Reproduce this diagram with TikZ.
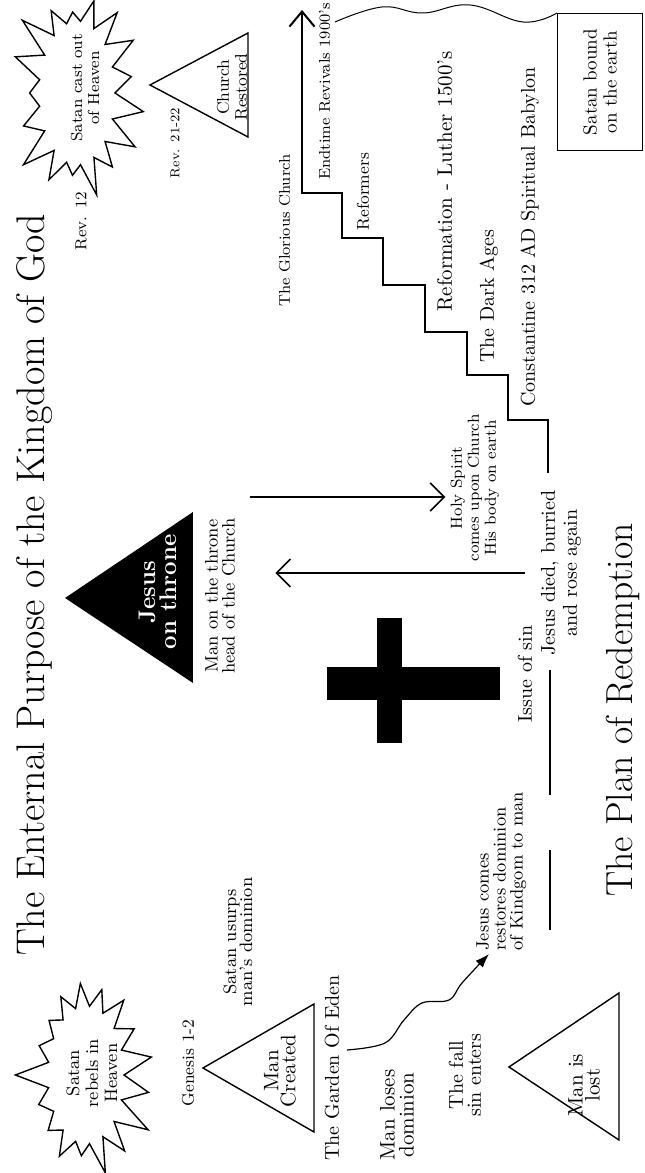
\documentclass[tikz,border=0pt]{standalone}
\usepackage{tikz}
\usetikzlibrary{positioning,arrows.meta,shapes.symbols}
\tikzset{%
  lbl/.style={inner sep=0pt, align=center},% plain caption
  burst/.style={draw, line width=0.7pt, shape=starburst, starburst points=17,
    starburst point height=18pt, inner sep=0pt},% satan stars
  tri/.style={draw, line width=0.7pt},% triangles
  stair/.style={line width=1pt},% steps of the church
  timeline/.style={line width=0.7pt},% line of redemption
  barb/.style={line width=0.8pt, -{Straight Barb[length=7pt,width=14pt]}}% open arrow
}
\newcommand*{\fs}[2]{\fontsize{#1}{#2}\selectfont}

\begin{document}
\begin{tikzpicture}[x=0.5pt, y=0.5pt]
\begin{scope}[rotate=90, transform shape]
\useasboundingbox (0,0) rectangle (1173,644);

% titles
\node[lbl, anchor=base, font=\fs{20}{22}] (kingdom) at (588,599) {The Enternal Purpose of the Kingdom of God};
\node[lbl, anchor=base, font=\fs{18.8}{20}] (plan) at (463,11) {The Plan of Redemption};

% creation
\node[burst, minimum width=105pt, minimum height=74pt, random starburst=7] (rebel) at (98,558) {};
\node[lbl, font=\fs{9}{9.5}] (rebeltxt) at (100,552) {Satan\\rebels in\\Heaven};
\node[lbl, font=\fs{8.5}{9}] (genesis) at (110,456) {Genesis 1-2};
\draw[tri] (41,330) -- (105,441) -- (169,330) -- cycle;
\node[lbl, font=\fs{10.5}{8.5}] (created) at (102,364) {Man\\Created};
\node[lbl, font=\fs{9}{8}] (usurps) at (231,406) {Satan usurps\\man's dominion};
\node[lbl, font=\fs{10}{10}] (eden) at (105,312) {The Garden Of Eden};
\node[lbl, font=\fs{10.5}{9.5}] (loses) at (58,247) {Man loses\\dominion};
\node[lbl, font=\fs{10}{9}] (fall) at (98,179) {The fall\\sin enters};
\draw[tri] (33,25) -- (106,135) -- (180,25) -- cycle;
\node[lbl, font=\fs{10.5}{8.5}] (lost) at (88,60) {Man is\\lost};

% jesus comes
\node[lbl, anchor=north west, align=left, font=\fs{9}{8.5}] (comes) at (222,168) {Jesus comes\\restores dominion\\of Kindgom to man};
\coordinate (fromeden) at (123,297);
\coordinate (tocomes) at (219,155);
\draw[line width=0.6pt, -{Latex[length=7pt,width=5pt]}] plot[smooth, tension=0.6]
  coordinates {(fromeden) (130,259) (153,240) (170,222) (173,195) (190,182) (tocomes)};

% cross
\fill (473,144) rectangle (506,317);
\fill (430,242) rectangle (555,267);
\node[lbl, font=\fs{10}{10}] (issue) at (499,119) {Issue of sin};
\draw[timeline] (243,94) -- (323,94);
\draw[timeline] (378,94) -- (503,94);
\node[lbl, font=\fs{10}{11}] (died) at (600,83) {Jesus died, burried\\and rose again};

% throne
\fill (490,451) -- (575,579) -- (661,451) -- cycle;
\node[lbl, text=white, font=\bfseries\fs{12}{10.5}] (jesus) at (581,486) {Jesus\\on throne};
\node[lbl, font=\fs{9}{8.5}] (throne) at (577,424) {Man on the throne\\head of the Church};
\node[lbl, font=\fs{8}{8.5}] (holy) at (685,169) {Holy Spirit\\comes upon Church\\His body on earth};
\draw[barb, shorten <=8pt, shorten >=20pt] (died.north) -- (died.north |- throne.south);
\coordinate (descend) at (676,394);
\draw[barb, shorten >=2.5pt] (descend) -- (descend |- holy.north);

% church age
\draw[stair, -{Straight Barb[length=7.5pt,width=12.5pt]}] (700,96) -- (753,96) -- (753,136)
  -- (798,136) -- (798,177) -- (841,177) -- (841,219) -- (888,219) -- (888,261)
  -- (935,261) -- (935,302) -- (980,302) -- (980,342) -- (1163,342);
\node[lbl, anchor=base west, font=\fs{10}{12}] (constantine) at (766,109) {Constantine 312 AD Spiritual Babylon};
\node[lbl, anchor=base west, font=\fs{10}{12}] (dark) at (810,150) {The Dark Ages};
\node[lbl, anchor=base west, font=\fs{10.5}{12}] (luther) at (861,192) {Reformation - Luther 1500's};
\node[lbl, anchor=base west, font=\fs{8.5}{10}] (reformers) at (942,275) {Reformers};
\node[lbl, anchor=base west, font=\fs{7.75}{9}] (revivals) at (993,314) {Endtime Revivals 1900's};
\node[lbl, anchor=base west, font=\fs{7.75}{9}] (glory) at (866,354) {The Glorious Church};

% end
\node[burst, minimum width=108pt, minimum height=74pt, random starburst=23] (castout) at (1080,567) {};
\node[lbl, font=\fs{8}{8.5}] (castouttxt) at (1085,559) {Satan cast out\\of Heaven};
\node[lbl, font=\fs{8}{9}] (rev12) at (952,563) {Rev. 12};
\draw[tri] (1036,396) -- (1088,494) -- (1140,396) -- cycle;
\node[lbl, font=\fs{8.5}{9}] (restored) at (1086,412) {Church\\Restored};
\node[lbl, font=\fs{6.5}{7}] (rev21) at (1030,469) {Rev. 21-22};
\node[draw, line width=0.5pt, minimum width=68.5pt, minimum height=42.5pt, inner sep=0pt,
  align=center, font=\fs{9.5}{10}] (bound) at (1091,44) {Satan bound\\on the earth};
\coordinate (wavestart) at (1151,309);
\draw[line width=0.5pt] plot[smooth, tension=0.7]
  coordinates {(wavestart) (1166,262) (1160,221) (1168,174) (1151,121) (bound.north east)};
\end{scope}
\end{tikzpicture}
\end{document}
